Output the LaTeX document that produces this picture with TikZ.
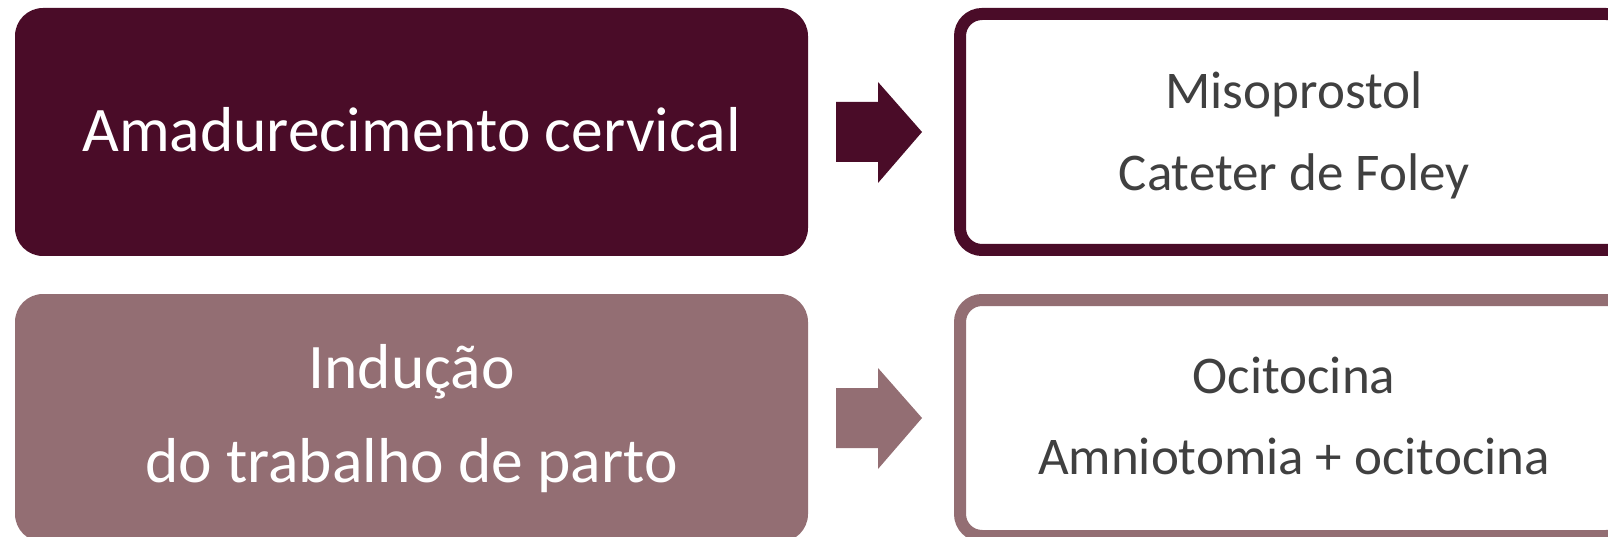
\documentclass[tikz,border=0pt]{standalone}
\usepackage{fontspec}
\setmainfont{Carlito}
\definecolor{darkplum}{HTML}{4A0C28}
\definecolor{lightplum}{HTML}{936E73}
\definecolor{txtgrey}{HTML}{404040}
\tikzset{
  leftbox/.style={rectangle, rounded corners=28pt, inner sep=0pt, minimum width=793pt, minimum height=248pt},
  rightbox/.style={rectangle, rounded corners=22pt, inner sep=0pt, fill=white, line width=12pt, minimum width=668pt, minimum height=236pt},
  lefttext/.style={anchor=base, text=white, font=\fontsize{63.5}{70}\selectfont, inner sep=0pt},
  righttext/.style={anchor=base, text=txtgrey, font=\fontsize{53}{60}\selectfont, inner sep=0pt},
  blockarrow/.style={draw=none}
}
\begin{document}
\begin{tikzpicture}[x=1pt,y=-1pt]
\useasboundingbox (0,0) rectangle (1608,537);
\clip (0,0) rectangle (1608,537);
\fill[white] (0,0) rectangle (1608,537);
% boxes
\node[leftbox, fill=darkplum] (L1) at (411.5,132) {};
\node[leftbox, fill=lightplum] (L2) at (411.5,418) {};
\node[rightbox, draw=darkplum] (R1) at (1294,132) {};
\node[rightbox, draw=lightplum] (R2) at (1294,418) {};
% texts
\node[lefttext] (t1) at (411.5,152) {Amadurecimento cervical};
\node[lefttext] (t2) at (411.5,388) {Indução};
\node[lefttext] (t3) at (411.5,482) {do trabalho de parto};
\node[righttext] (r1) at (1294,109) {Misoprostol};
\node[righttext] (r2) at (1294,191) {Cateter de Foley};
\node[righttext] (r3) at (1294,393) {Ocitocina};
\node[righttext] (r4) at (1294,474) {Amniotomia + ocitocina};
% block arrows
\fill[darkplum] (836,102) -- (878,102) -- (878,82) -- (922,132) -- (878,183) -- (878,162) -- (836,162) -- cycle;
\fill[lightplum] (836,388) -- (878,388) -- (878,368) -- (922,418) -- (878,469) -- (878,448) -- (836,448) -- cycle;
\end{tikzpicture}
\end{document}
